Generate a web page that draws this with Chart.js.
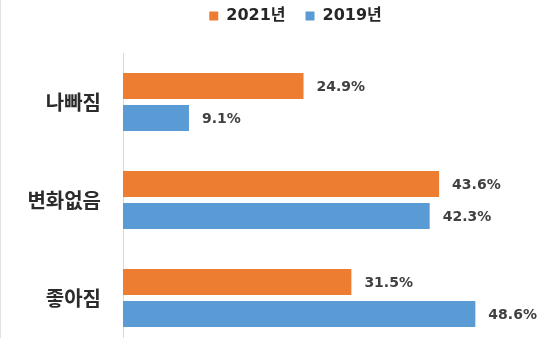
<!DOCTYPE html>
<html>
<head>
<meta charset="utf-8">
<script src="https://cdn.jsdelivr.net/npm/chart.js@4"></script>
<style>
  html, body { margin: 0; padding: 0; background: #fff; overflow: hidden; }
  #wrap { position: absolute; left: 0; top: 0; width: 557px; height: 347px; border-left: 1px solid #e2e2e2; }
</style>
</head>
<body>
<div id="wrap"><canvas id="myChart" width="557" height="347"></canvas></div>
<script>
// 데이터
var categorias = ['나빠짐', '변화없음', '좋아짐'];
var series2021 = [24.9, 43.6, 31.5];
var series2019 = [9.1, 42.3, 48.6];
var legendas = ['2021년', '2019년'];

var fonteNum = "'DejaVu Sans', 'Noto Sans CJK KR', sans-serif";
var fonteKr = "'Noto Sans CJK KR', sans-serif";

// rótulos de valor ao lado das barras
var rotulos = {
    id: 'rotulos',
    afterDatasetsDraw: function (chart) {
        var ctx = chart.ctx;
        ctx.save();
        ctx.font = 'bold 14px ' + fonteNum;
        ctx.fillStyle = '#404040';
        ctx.textAlign = 'left';
        ctx.textBaseline = 'middle';
        chart.data.datasets.forEach(function (ds, i) {
            chart.getDatasetMeta(i).data.forEach(function (bar, j) {
                ctx.fillText(ds.data[j].toFixed(1) + '%', bar.x + 13, bar.y + 1);
            });
        });
        ctx.restore();
    }
};

// altura fixa da legenda (área do gráfico começa em y=53)
var espacoLegenda = {
    id: 'espacoLegenda',
    beforeInit: function (chart) {
        var fitOriginal = chart.legend.fit;
        chart.legend.fit = function () {
            fitOriginal.bind(chart.legend)();
            this.height = 65;
        };
    }
};

const data = {
    labels: categorias,
    datasets: [{
        label: legendas[0],
        data: series2021,
        backgroundColor: '#ED7D31',
        categoryPercentage: 0.653,
        barPercentage: 0.81
    }, {
        label: legendas[1],
        data: series2019,
        backgroundColor: '#5B9BD5',
        categoryPercentage: 0.653,
        barPercentage: 0.81
    }]
};

const config = {
    type: 'bar',
    data,
    options: {
        indexAxis: 'y',
        responsive: false,
        animation: false,
        layout: { padding: { left: 0, right: -32, top: -12, bottom: 0 } },
        plugins: {
            legend: {
                position: 'top',
                labels: {
                    boxWidth: 9,
                    boxHeight: 9,
                    padding: 20,
                    color: '#262626',
                    font: { family: fonteNum, size: 16, weight: 'bold' }
                }
            },
            tooltip: { enabled: false }
        },
        scales: {
            x: {
                display: false,
                min: 0,
                max: 60
            },
            y: {
                afterFit: function (s) {
                    s.width = 122;
                    s.paddingTop = 0;
                    s.paddingBottom = 0;
                },
                grid: { display: false, drawTicks: true, tickLength: 22 },
                border: { display: true, color: '#d9d9d9', width: 1 },
                ticks: {
                    padding: 0,
                    color: '#2b2b2b',
                    font: { family: fonteKr, size: 20, weight: 'bold' }
                }
            }
        }
    },
    plugins: [rotulos, espacoLegenda]
};

var myChart = new Chart(document.getElementById('myChart'), config);
</script>
</body>
</html>
